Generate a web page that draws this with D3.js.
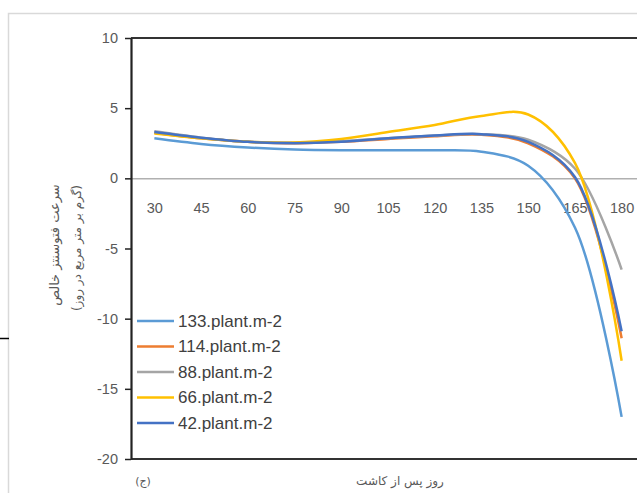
<!DOCTYPE html>
<html>
<head>
<meta charset="utf-8">
<script src="https://cdn.jsdelivr.net/npm/d3@7"></script>
<style>
  body { margin: 0; background: #fff; }
  svg { display: block; }
  .tick text { font-family: "Liberation Sans", sans-serif; fill: #595959; }
</style>
</head>
<body>
<script>
/* GLOBALS */
var W = 637, H = 493;
var plot = { left: 131, top: 38, right: 645, bottom: 459 };

// days after sowing (category axis)
var days = [30, 45, 60, 75, 90, 105, 120, 135, 150, 165, 180];
var yTicks = [-20, -15, -10, -5, 0, 5, 10];

// net photosynthesis rate per density
var s133 = [2.85, 2.45, 2.2, 2.05, 2.0, 2.0, 2.0, 1.9, 0.9, -3.5, -17.0];
var s114 = [3.25, 2.85, 2.6, 2.5, 2.6, 2.8, 3.0, 3.1, 2.5, 0.0, -11.4];
var s88  = [3.35, 2.9, 2.6, 2.55, 2.65, 2.85, 3.05, 3.15, 2.75, 0.7, -6.5];
var s66  = [3.2, 2.85, 2.6, 2.55, 2.8, 3.3, 3.8, 4.45, 4.55, 1.1, -13.0];
var s42  = [3.3, 2.9, 2.6, 2.5, 2.6, 2.85, 3.05, 3.15, 2.6, 0.1, -10.9];

var names  = ["133.plant.m-2", "114.plant.m-2", "88.plant.m-2", "66.plant.m-2", "42.plant.m-2"];
var colors = ["#5B9BD5", "#ED7D31", "#A5A5A5", "#FFC000", "#4472C4"];
var series = [s133, s114, s88, s66, s42];

var svg = d3.select("body").append("svg")
  .attr("width", W)
  .attr("height", H);

// outer chart frame
svg.append("path")
  .attr("d", "M8.5," + H + "V13.5H" + W)
  .attr("fill", "none")
  .attr("stroke", "#d9d9d9")
  .attr("stroke-width", 1.5);

// stray table rule from the page
svg.append("line")
  .attr("x1", 0).attr("x2", 9)
  .attr("y1", 338.5).attr("y2", 338.5)
  .attr("stroke", "#000").attr("stroke-width", 1.5);

var x = d3.scalePoint()
  .domain(days)
  .range([plot.left, plot.right])
  .padding(0.5);

var y = d3.scaleLinear()
  .domain([-20, 10])
  .range([plot.bottom, plot.top]);

// top and bottom frame lines
svg.append("line")
  .attr("x1", plot.left).attr("x2", W)
  .attr("y1", y(10)).attr("y2", y(10))
  .attr("stroke", "#333").attr("stroke-width", 2.2);
svg.append("line")
  .attr("x1", plot.left).attr("x2", W)
  .attr("y1", y(-20)).attr("y2", y(-20))
  .attr("stroke", "#333").attr("stroke-width", 2.2);

// X axis on the zero line
var axisX = svg.append("g")
  .attr("transform", "translate(0," + y(0) + ")")
  .call(d3.axisBottom(x).tickSize(0).tickSizeOuter(0).tickPadding(24));
axisX.select(".domain").attr("stroke", "#b0b0b0").attr("stroke-width", 1.5);
axisX.selectAll("text").style("font-size", "14.5px");

// Y axis (plain hyphen minus, as in the original)
var axisY = svg.append("g")
  .attr("transform", "translate(" + plot.left + ",0)")
  .call(d3.axisLeft(y).tickValues(yTicks).tickSize(6).tickSizeOuter(0).tickPadding(7)
    .tickFormat(function (d) { return String(d); }));
axisY.select(".domain").attr("stroke", "#222").attr("stroke-width", 2.2);
axisY.selectAll("line").attr("stroke", "#222").attr("stroke-width", 1.5);
axisY.selectAll("text").style("font-size", "14.5px");

// lines
var line = d3.line()
  .x(function (d, i) { return x(days[i]); })
  .y(function (d) { return y(d); })
  .curve(d3.curveCatmullRom.alpha(0.5));

svg.selectAll(".series")
  .data(series)
  .enter().append("path")
  .attr("class", "series")
  .attr("fill", "none")
  .attr("stroke", function (d, i) { return colors[i]; })
  .attr("stroke-width", 2.5)
  .attr("d", line);

// legend
var legend = svg.append("g").attr("transform", "translate(137,321)");
legend.append("rect")
  .attr("x", -2).attr("y", -12)
  .attr("width", 150).attr("height", 126)
  .attr("fill", "#fff");
var item = legend.selectAll(".item")
  .data(names)
  .enter().append("g")
  .attr("class", "item")
  .attr("transform", function (d, i) { return "translate(0," + (i * 25.5) + ")"; });
item.append("line")
  .attr("x1", 0).attr("x2", 37)
  .attr("stroke", function (d, i) { return colors[i]; })
  .attr("stroke-width", 2.5);
item.append("text")
  .attr("x", 41).attr("dy", "0.35em")
  .style("font-family", "'Liberation Sans', sans-serif")
  .style("font-size", "17px")
  .attr("fill", "#404040")
  .text(function (d) { return d; });

// y title (two rotated lines)
svg.append("text")
  .attr("transform", "translate(54,245) rotate(-90)")
  .attr("text-anchor", "middle")
  .attr("dy", "0.35em")
  .style("font-family", "'DejaVu Sans', sans-serif")
  .style("font-size", "13px")
  .attr("fill", "#595959")
  .text("سرعت فتوسنتز خالص");
svg.append("text")
  .attr("transform", "translate(77,248) rotate(-90)")
  .attr("text-anchor", "middle")
  .attr("dy", "0.35em")
  .style("font-family", "'DejaVu Sans', sans-serif")
  .style("font-size", "12px")
  .attr("fill", "#595959")
  .text("(گرم بر متر مربع در روز)");

// x title and panel label
svg.append("text")
  .attr("x", 400).attr("y", 481)
  .attr("text-anchor", "middle")
  .attr("dy", "0.35em")
  .style("font-family", "'DejaVu Sans', sans-serif")
  .style("font-size", "12px")
  .attr("fill", "#595959")
  .text("روز پس از کاشت");
svg.append("text")
  .attr("x", 143).attr("y", 481)
  .attr("text-anchor", "middle")
  .attr("dy", "0.35em")
  .style("font-family", "'DejaVu Sans', sans-serif")
  .style("font-size", "11px")
  .attr("fill", "#595959")
  .text("(ج)");
</script>
</body>
</html>
